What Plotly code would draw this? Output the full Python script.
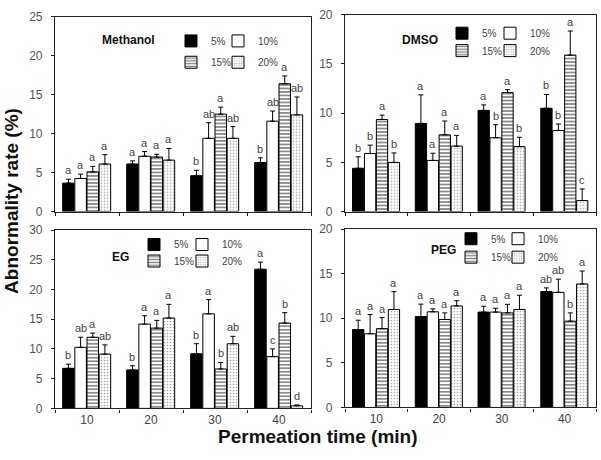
import plotly.graph_objects as go

times = [10, 20, 30, 40]
series = ["5%", "10%", "15%", "20%"]
panel_names = ["Methanol", "DMSO", "EG", "PEG"]

# values per series (5%, 10%, 15%, 20%) at 10, 20, 30, 40 min
methanol_values = [[3.65, 6.1, 4.6, 6.3], [4.25, 7.1, 9.4, 11.6], [5.1, 7.0, 12.5, 16.4], [6.1, 6.6, 9.4, 12.4]]
methanol_errors = [[0.5, 0.4, 0.7, 0.6], [0.55, 0.6, 2.0, 1.3], [0.7, 0.35, 0.9, 1.0], [1.2, 1.5, 1.5, 2.3]]
methanol_letters = [["a", "a", "b", "b"], ["a", "a", "ab", "ab"], ["a", "a", "a", "a"], ["a", "a", "ab", "ab"]]

dmso_values = [[4.4, 8.96, 10.28, 10.5], [5.9, 5.2, 7.5, 8.24], [9.36, 7.8, 12.09, 15.9], [5.0, 6.65, 6.6, 1.12]]
dmso_errors = [[1.17, 2.9, 0.56, 1.4], [0.85, 0.73, 1.33, 0.66], [0.44, 1.4, 0.3, 2.45], [0.96, 1.09, 0.95, 1.18]]
dmso_letters = [["b", "a", "a", "b"], ["b", "a", "b", "b"], ["a", "a", "a", "a"], ["b", "a", "b", "c"]]

eg_values = [[6.74, 6.47, 9.18, 23.4], [10.27, 14.18, 15.9, 8.7], [11.96, 13.5, 6.63, 14.35], [9.13, 15.2, 10.87, 0.43]]
eg_errors = [[0.7, 0.7, 1.7, 1.2], [1.7, 1.4, 2.4, 1.3], [0.7, 1.3, 1.1, 1.75], [1.55, 2.3, 1.25, 0.15]]
eg_letters = [["b", "b", "b", "a"], ["ab", "a", "a", "c"], ["a", "a", "b", "b"], ["ab", "a", "ab", "d"]]

peg_values = [[8.73, 10.18, 10.69, 13.0], [8.26, 10.72, 10.69, 12.9], [8.84, 9.86, 10.6, 9.67], [10.98, 11.38, 10.98, 13.84]]
peg_errors = [[1.05, 1.4, 0.65, 0.4], [2.15, 0.33, 0.43, 1.48], [1.23, 0.74, 0.96, 0.93], [2.0, 0.58, 1.6, 1.45]]
peg_letters = [["a", "a", "a", "ab"], ["a", "a", "a", "ab"], ["a", "a", "a", "b"], ["a", "a", "a", "a"]]

y_max = [25, 20, 30, 20]

panels = [
    (methanol_values, methanol_errors, methanol_letters),
    (dmso_values, dmso_errors, dmso_letters),
    (eg_values, eg_errors, eg_letters),
    (peg_values, peg_errors, peg_letters),
]

W, H = 601, 460
def px(x):
    return x / W
def py(y):
    return 1 - y / H

x_domains = [[px(55), px(311)], [px(345), px(596)], [px(55), px(311)], [px(345), px(596)]]
y_domains = [[py(211), py(10)], [py(211), py(8)], [py(414), py(230)], [py(413), py(229)]]

bar_width = 1.8
bar_step = 1.9
styles = [
    dict(color="black", pattern=None),
    dict(color="white", pattern=None),
    dict(color="white", pattern=dict(shape="-", fgcolor="black", bgcolor="white", size=3.5, solidity=0.45)),
    dict(color="white", pattern=dict(shape=".", fgcolor="#555555", bgcolor="white", size=3, solidity=0.25)),
]

# legend layout per panel: text start x of column 1 and 2, y of row 1 and 2 (pixels)
legend_cols = [(211, 258), (482, 530), (174, 222), (491, 538)]
legend_rows = [(39, 61), (31, 49), (249, 266), (243, 262)]
TEXT_OFFSET = 40
Y_FIX = 4

fig = go.Figure()
annotations = []
layout = dict(
    width=W, height=H, margin=dict(l=0, r=0, t=0, b=0),
    plot_bgcolor="white", paper_bgcolor="white", barmode="overlay",
    font=dict(family="Liberation Sans, Arial", color="#444444", size=11),
)

n_leg = 0
for p, (vals, errs, letters) in enumerate(panels):
    xa = "x" if p == 0 else f"x{p+1}"
    ya = "y" if p == 0 else f"y{p+1}"
    for k, s in enumerate(series):
        n_leg += 1
        legend_id = "legend" if n_leg == 1 else f"legend{n_leg}"
        cx = legend_cols[p][k % 2]
        ry = legend_rows[p][k // 2]
        layout[legend_id] = dict(
            x=px(cx - TEXT_OFFSET), y=py(ry - Y_FIX), xanchor="left", yanchor="middle",
            orientation="v", bgcolor="rgba(0,0,0,0)", borderwidth=0,
            font=dict(size=10, color="#444444", family="Liberation Sans, Arial"),
            itemwidth=30, itemclick=False, itemdoubleclick=False,
        )
        st = styles[k]
        marker = dict(color=st["color"], line=dict(color="black", width=1))
        if st["pattern"]:
            marker["pattern"] = st["pattern"]
        off = -3.8 + k * bar_step
        fig.add_trace(go.Bar(
            x=times, y=vals[k], name=s, xaxis=xa, yaxis=ya,
            width=bar_width, offset=off, marker=marker,
            error_y=dict(type="data", array=errs[k], arrayminus=[0] * 4, symmetric=False,
                         color="black", thickness=1, width=2.5),
            legend=legend_id, showlegend=True,
        ))
        for i, t in enumerate(times):
            annotations.append(dict(
                x=t + off + bar_width / 2, y=vals[k][i] + errs[k][i],
                xref=xa, yref=ya, text=letters[k][i], showarrow=False,
                yanchor="bottom", yshift=1,
                font=dict(size=11, color="#444444", family="Liberation Sans, Arial"),
            ))

for p in range(4):
    sx = "" if p == 0 else str(p + 1)
    ya = "y" if p == 0 else f"y{p+1}"
    xa = "x" if p == 0 else f"x{p+1}"
    layout[f"xaxis{sx}"] = dict(
        domain=x_domains[p], range=[5, 45], anchor=ya,
        tickvals=times, ticktext=[str(t) for t in times] if p >= 2 else ["", "", "", ""],
        ticks="", showgrid=False, zeroline=False,
        showline=True, mirror=True, linecolor="#222222", linewidth=1.2,
        minor=dict(tick0=5, dtick=10, ticks="outside", ticklen=3, tickcolor="#222222"),
        tickfont=dict(size=12, color="#444444"),
    )
    layout[f"yaxis{sx}"] = dict(
        domain=y_domains[p], range=[0, y_max[p]], dtick=5, anchor=xa,
        ticks="outside", ticklen=3, tickcolor="#222222", showgrid=False, zeroline=False,
        showline=True, mirror=True, linecolor="#222222", linewidth=1.2,
        tickfont=dict(size=12, color="#555555"), ticklabelstandoff=6,
    )

# panel titles
title_pos = [(128, 34), (420, 34), (121, 258), (443, 251)]
for p, name in enumerate(panel_names):
    annotations.append(dict(
        x=px(title_pos[p][0]), y=py(title_pos[p][1]), xref="paper", yref="paper",
        text=f"<b>{name}</b>", showarrow=False, xanchor="center", yanchor="middle",
        font=dict(size=12, color="#111111", family="Liberation Sans, Arial"),
    ))

annotations.append(dict(
    x=px(318), y=py(443), xref="paper", yref="paper", text="<b>Permeation time (min)</b>",
    showarrow=False, xanchor="center", yanchor="middle",
    font=dict(size=19, color="#111111", family="Liberation Sans, Arial"),
))
annotations.append(dict(
    x=px(12), y=py(200), xref="paper", yref="paper", text="<b>Abnormality rate (%)</b>",
    showarrow=False, xanchor="center", yanchor="middle", textangle=-90,
    font=dict(size=19, color="#111111", family="Liberation Sans, Arial"),
))

layout["annotations"] = annotations
fig.update_layout(**layout)
fig.write_html("out.html")
